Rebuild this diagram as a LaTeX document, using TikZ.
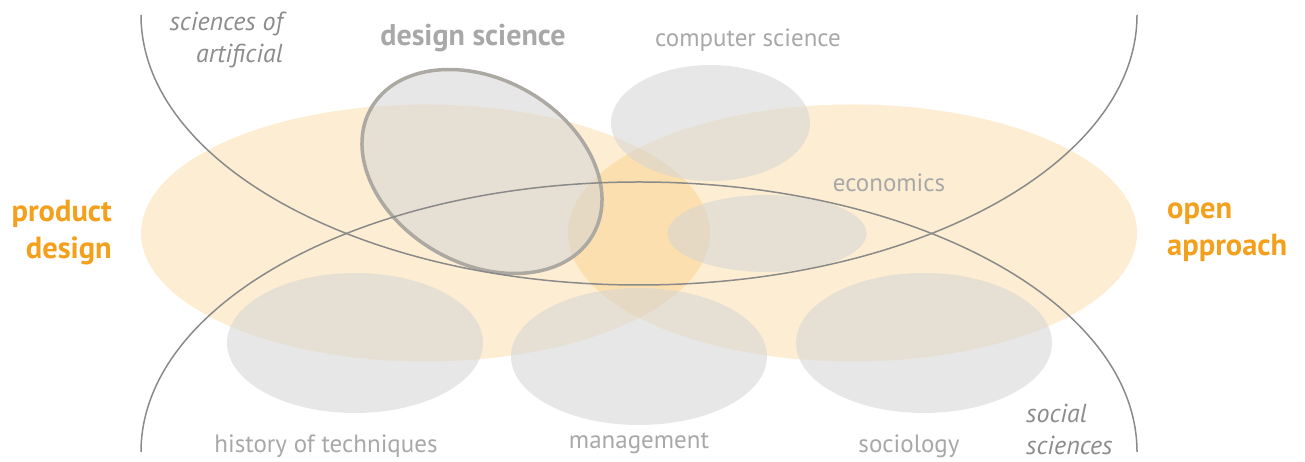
\documentclass[tikz,border=0pt]{standalone}
\usepackage{fontspec}
\setmainfont{PT Sans}
\definecolor{orng}{RGB}{247,166,30}
\definecolor{otext}{RGB}{245,160,28}
\definecolor{ltext}{RGB}{168,168,168}
\definecolor{itext}{RGB}{140,140,140}
\definecolor{arcc}{RGB}{138,138,138}
\definecolor{dsline}{RGB}{172,168,162}
\definecolor{gfill}{RGB}{212,212,212}
\tikzset{
  field/.style={fill=orng, fill opacity=0.2},
  topic/.style={fill=gfill, fill opacity=0.55},
  arcline/.style={draw=arcc, line width=1.5pt},
  lbl/.style={text=ltext, font=\fontsize{25}{29}\selectfont, inner sep=0pt},
  ital/.style={text=itext, font=\fontsize{26}{32}\selectfont\itshape, inner sep=0pt},
  big/.style={text=otext, font=\fontsize{30.5}{37}\selectfont\bfseries, inner sep=0pt},
}
\begin{document}
\begin{tikzpicture}[x=1pt,y=1pt]
\useasboundingbox (0,0) rectangle (1305,462);
% orange fields
\path[field] (425.5,229) ellipse [x radius=284.5, y radius=128.5];
\path[field] (852.5,229) ellipse [x radius=284.5, y radius=128.5];
% gray topics
\path[topic] (710.5,339) ellipse [x radius=99.5, y radius=58];
\path[topic] (767,228.5) ellipse [x radius=99.5, y radius=38.5];
\path[topic] (355,119) ellipse [x radius=128, y radius=70];
\path[topic] (639,105.5) ellipse [x radius=128, y radius=68.5];
\path[topic] (924,119) ellipse [x radius=128, y radius=70];
% design science
\path[topic, draw=dsline, line width=3.5pt, rotate around={-29.6:(482,290.5)}]
  (482,290.5) ellipse [x radius=127.7, y radius=92.2];
% arcs
\draw[arcline] (141,447) arc [start angle=180, end angle=360, x radius=498, y radius=270];
\draw[arcline] (141,10) arc [start angle=180, end angle=0, x radius=498, y radius=270];
% labels
\node[text=ltext, font=\fontsize{30}{34}\selectfont\bfseries, inner sep=0pt] (ds) at (473,424) {design science};
\node[lbl] (cs) at (748,422) {computer science};
\node[lbl] (ec) at (889,279) {economics};
\node[lbl] (ht) at (326,16) {history of techniques};
\node[lbl] (mg) at (639,19) {management};
\node[lbl] (so) at (909,16) {sociology};
\node[ital, align=right, anchor=east] (sa) at (283,422) {sciences of\\artificial};
\node[ital, align=left, anchor=west] (ss) at (1026,33) {social\\sciences};
\node[big, align=right, anchor=east] (pd) at (112,229) {product\\design};
\node[big, align=left, anchor=west] (oa) at (1167,230) {open\\approach};
\end{tikzpicture}
\end{document}
